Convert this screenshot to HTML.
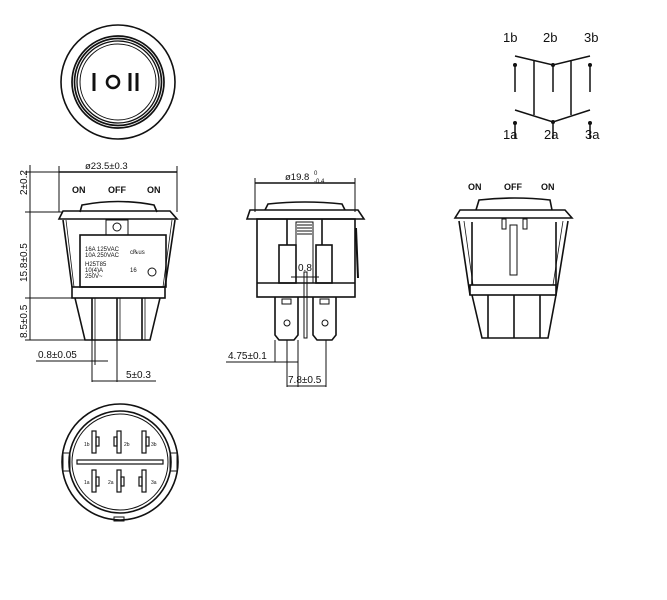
<!DOCTYPE html>
<html><head><meta charset="utf-8"><style>
html,body{margin:0;padding:0;background:#fff;}
svg{display:block;}
text{font-family:"Liberation Sans",sans-serif;fill:#111;}
</style></head><body>
<svg width="667" height="600" viewBox="0 0 667 600" xmlns="http://www.w3.org/2000/svg" stroke="#111" fill="none" stroke-width="1.6">
<!-- top circle -->
<circle cx="118" cy="82" r="57"/>
<circle cx="118" cy="82" r="46" stroke-width="1.7"/>
<circle cx="118" cy="82" r="43.5" stroke-width="1.7"/>
<circle cx="118" cy="82" r="41" stroke-width="1.3"/>
<circle cx="118" cy="82" r="38" stroke-width="1"/>
<line x1="94" y1="73" x2="94" y2="91" stroke-width="3"/>
<circle cx="113" cy="82" r="6" stroke-width="2.6"/>
<line x1="130" y1="73" x2="130" y2="91" stroke-width="3"/>
<line x1="137" y1="73" x2="137" y2="91" stroke-width="3"/>

<!-- schematic -->
<g stroke-width="1.5">
<polyline points="515,56 553,65 590,56"/>
<polyline points="515,110 553,122 590,110"/>
<line x1="534" y1="61" x2="534" y2="115"/><line x1="571" y1="61" x2="571" y2="115"/>
<line x1="515" y1="65" x2="515" y2="92"/><line x1="553" y1="65" x2="553" y2="92"/><line x1="590" y1="65" x2="590" y2="92"/>
<line x1="515" y1="123" x2="515" y2="139"/><line x1="553" y1="122" x2="553" y2="139"/><line x1="590" y1="123" x2="590" y2="139"/>
</g>
<g fill="#111" stroke="none">
<circle cx="515" cy="65" r="2"/><circle cx="553" cy="65" r="2"/><circle cx="590" cy="65" r="2"/>
<circle cx="515" cy="123" r="2"/><circle cx="553" cy="122" r="2"/><circle cx="590" cy="123" r="2"/>
</g>
<g stroke="none" font-size="13">
<text x="503" y="42">1b</text><text x="543" y="42">2b</text><text x="584" y="42">3b</text>
<text x="503" y="139">1a</text><text x="544" y="139">2a</text><text x="585" y="139">3a</text>
</g>

<!-- left front view -->
<line x1="59" y1="172" x2="177" y2="172"/>
<line x1="59" y1="166" x2="59" y2="212" stroke-width="1"/><line x1="177" y1="166" x2="177" y2="212" stroke-width="1"/>
<text x="85" y="169" font-size="9.5" stroke="none">ø23.5±0.3</text>
<g stroke="none" font-size="9" font-weight="bold"><text x="72" y="193">ON</text><text x="108" y="193">OFF</text><text x="147" y="193">ON</text></g>
<path d="M80,212 L82,205 Q118,198 154,205 L157,212"/>
<polygon points="63,211 170,211 177,219 59,219"/>
<path d="M63,220 L72,287 M175,220 L165,287"/>
<path d="M66,220 L74,287 M172,220 L163,287" stroke-width="0.8"/>
<rect x="80" y="235" width="86" height="52"/>
<rect x="72" y="287" width="93" height="11"/>
<path d="M75,298 L85,340 L150,340 L160,298"/>
<line x1="92" y1="298" x2="92" y2="340"/><line x1="95" y1="298" x2="95" y2="340" stroke-width="0.8"/>
<line x1="117" y1="298" x2="117" y2="340"/><line x1="120" y1="298" x2="120" y2="340" stroke-width="0.8"/>
<line x1="142" y1="298" x2="142" y2="340"/><line x1="145" y1="298" x2="145" y2="340" stroke-width="0.8"/>
<rect x="106" y="220" width="22" height="15" stroke-width="1"/><circle cx="117" cy="227" r="4" stroke-width="1"/>
<g stroke="none" font-size="6"><text x="85" y="251">16A 125VAC</text><text x="85" y="257">10A 250VAC</text><text x="85" y="266">H25T85</text><text x="85" y="272">10(4)A</text><text x="85" y="278">250V~</text><text x="130" y="254">c℞us</text><text x="130" y="272">16</text></g>
<circle cx="152" cy="272" r="4" stroke-width="1"/>
<!-- left dims -->
<line x1="30" y1="165" x2="30" y2="340" stroke-width="1"/>
<line x1="25" y1="172" x2="59" y2="172" stroke-width="1"/>
<line x1="25" y1="212" x2="63" y2="212" stroke-width="1"/>
<line x1="25" y1="298" x2="72" y2="298" stroke-width="1"/>
<line x1="25" y1="340" x2="85" y2="340" stroke-width="1"/>
<g stroke="none" font-size="10">
<text transform="translate(27,195) rotate(-90)">2±0.2</text>
<text transform="translate(27,282) rotate(-90)">15.8±0.5</text>
<text transform="translate(27,338) rotate(-90)">8.5±0.5</text>
<text x="38" y="358">0.8±0.05</text>
<text x="126" y="378">5±0.3</text>
</g>
<line x1="36" y1="361" x2="108" y2="361" stroke-width="1"/>
<line x1="92" y1="340" x2="92" y2="382" stroke-width="1"/><line x1="95" y1="340" x2="95" y2="365" stroke-width="1"/>
<line x1="117" y1="340" x2="117" y2="382" stroke-width="1"/>
<line x1="92" y1="381" x2="156" y2="381" stroke-width="1"/>

<!-- middle side view -->
<line x1="255" y1="183" x2="355" y2="183"/>
<line x1="255" y1="178" x2="255" y2="212" stroke-width="1"/><line x1="355" y1="178" x2="355" y2="212" stroke-width="1"/>
<text x="285" y="180" font-size="9.5" stroke="none">ø19.8</text>
<text x="314" y="175" font-size="6" stroke="none">0</text><text x="314" y="183" font-size="6" stroke="none">-0.4</text>
<path d="M265,210 L268,204 Q305,200 342,204 L345,210"/>
<polygon points="250,210 358,210 364,219 247,219"/>
<rect x="257" y="219" width="98" height="78"/>
<line x1="257" y1="283" x2="355" y2="283"/>
<line x1="356" y1="228" x2="358" y2="278" stroke-width="2"/>
<line x1="287" y1="219" x2="287" y2="245"/><line x1="322" y1="219" x2="322" y2="245"/>
<rect x="279" y="245" width="17" height="38"/><rect x="316" y="245" width="16" height="38"/>
<rect x="296" y="222" width="17" height="61" stroke-width="1"/>
<g stroke-width="1"><line x1="297" y1="225" x2="312" y2="225"/><line x1="297" y1="228" x2="312" y2="228"/><line x1="297" y1="231" x2="312" y2="231"/><line x1="297" y1="234" x2="312" y2="234"/></g>
<text x="298" y="271" font-size="10" stroke="none">0.8</text>
<line x1="291" y1="277" x2="319" y2="277" stroke-width="1"/>
<path d="M275,297 L275,335 L279,340 L294,340 L298,335 L298,297"/>
<path d="M313,297 L313,335 L317,340 L332,340 L336,335 L336,297"/>
<rect x="282" y="299" width="9" height="5" stroke-width="1"/><rect x="320" y="299" width="9" height="5" stroke-width="1"/>
<circle cx="287" cy="323" r="3" stroke-width="1"/><circle cx="325" cy="323" r="3" stroke-width="1"/>
<rect x="304" y="272" width="3" height="66" stroke-width="1"/>
<line x1="275" y1="340" x2="275" y2="362" stroke-width="1"/><line x1="298" y1="340" x2="298" y2="387" stroke-width="1"/>
<line x1="287" y1="340" x2="287" y2="387" stroke-width="1"/><line x1="326" y1="340" x2="326" y2="387" stroke-width="1"/>
<line x1="226" y1="362" x2="298" y2="362" stroke-width="1"/>
<line x1="287" y1="386" x2="326" y2="386" stroke-width="1"/>
<g stroke="none" font-size="10"><text x="228" y="359">4.75±0.1</text><text x="288" y="383">7.8±0.5</text></g>

<!-- right view -->
<g stroke="none" font-size="9" font-weight="bold"><text x="468" y="190">ON</text><text x="504" y="190">OFF</text><text x="541" y="190">ON</text></g>
<path d="M476,210 L479,200 Q515,196 550,200 L552,210"/>
<polygon points="460,210 565,210 572,218 455,218"/>
<path d="M459,221 L470,295 M568,221 L556,295"/>
<path d="M464,221 L473,285 M563,221 L553,285" stroke-width="0.8"/>
<path d="M472,222 L472,285 M556,222 L556,285"/>
<rect x="470" y="285" width="86" height="10"/>
<rect x="510" y="225" width="7" height="50" stroke-width="1"/>
<rect x="502" y="219" width="4" height="10" stroke-width="1"/><rect x="523" y="219" width="4" height="10" stroke-width="1"/>
<path d="M472,295 L482,338 L548,338 L556,295"/>
<line x1="488" y1="295" x2="488" y2="338"/><line x1="514" y1="295" x2="514" y2="338"/><line x1="540" y1="295" x2="540" y2="338"/>

<!-- bottom view -->
<circle cx="120" cy="462" r="58"/>
<circle cx="120" cy="462" r="51"/>
<circle cx="120" cy="462" r="48" stroke-width="1"/>
<rect x="63" y="453" width="7" height="18" stroke-width="1"/><rect x="170" y="453" width="7" height="18" stroke-width="1"/>
<rect x="77" y="460" width="86" height="4" stroke-width="1.2"/>
<rect x="114" y="517" width="10" height="4" stroke-width="1"/>
<g stroke-width="1.2">
<rect x="92" y="431" width="4" height="22"/><rect x="117" y="431" width="4" height="22"/><rect x="142" y="431" width="4" height="22"/>
<rect x="92" y="470" width="4" height="22"/><rect x="117" y="470" width="4" height="22"/><rect x="142" y="470" width="4" height="22"/>
<rect x="96" y="437" width="3" height="9"/><rect x="114" y="437" width="3" height="9"/><rect x="146" y="437" width="3" height="9"/>
<rect x="96" y="477" width="3" height="9"/><rect x="121" y="477" width="3" height="9"/><rect x="139" y="477" width="3" height="9"/>
</g>
<g stroke="none" font-size="5"><text x="84" y="446">1b</text><text x="124" y="446">2b</text><text x="151" y="446">3b</text>
<text x="84" y="484">1a</text><text x="108" y="484">2a</text><text x="151" y="484">3a</text></g>
</svg>
</body></html>
